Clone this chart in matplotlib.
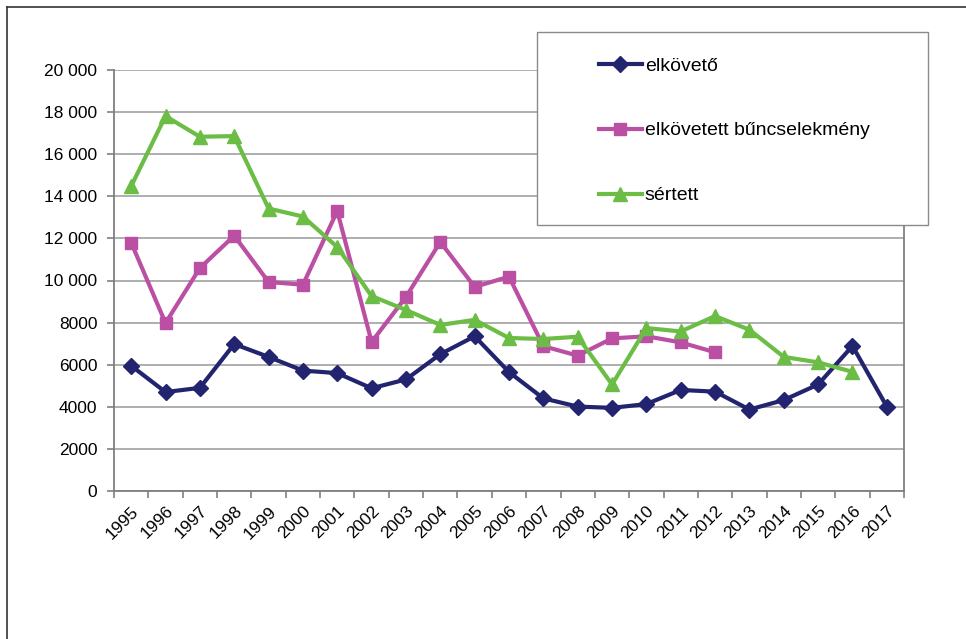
import numpy as np
import matplotlib
matplotlib.use("Agg")
import matplotlib.pyplot as plt
from matplotlib.patches import Rectangle
from matplotlib.lines import Line2D
from matplotlib.ticker import FuncFormatter

plt.rcParams['font.family'] = ['Liberation Sans', 'DejaVu Sans']

# --- Data ---
years = [str(y) for y in range(1995, 2018)]

elkoveto = [5950, 4700, 4900, 6980, 6370, 5720, 5600, 4880, 5300, 6500,
            7350, 5650, 4400, 4010, 3950, 4130, 4800, 4720, 3870, 4320,
            5060, 6890, 4010]
buncselekmeny = [11800, 7980, 10590, 12130, 9930, 9800, 13300, 7080, 9220, 11830,
                 9700, 10180, 6880, 6430, 7250, 7350, 7060, 6590]
sertett = [14480, 17810, 16830, 16860, 13420, 13040, 11590, 9260, 8600, 7890,
           8130, 7270, 7220, 7330, 5060, 7740, 7580, 8310, 7660, 6370,
           6110, 5660]

labels = ['elkövető', 'elkövetett bűncselekmény', 'sértett']
colors = ['#232470', '#bb4fa3', '#6bbd45']
markers = ['D', 's', '^']
msizes = [8, 9, 10]
yticks = list(range(0, 20001, 2000))


def fmt_thousands(v, pos):
    v = int(v)
    if v >= 10000:
        return f"{v:,}".replace(',', ' ')
    return str(v)


# --- Plot ---
fig = plt.figure(figsize=(9.66, 6.39), dpi=100)
ax = fig.add_axes([114 / 966, 1 - 491 / 639, 790 / 966, 421 / 639])

x = np.arange(len(years))
series = [elkoveto, buncselekmeny, sertett]
for vals, lab, col, mk, ms in zip(series, labels, colors, markers, msizes):
    ax.plot(x[:len(vals)], vals, color=col, lw=3, marker=mk, markersize=ms,
            label=lab, zorder=3)

ax.set_xlim(-0.5, len(years) - 0.5)
ax.set_ylim(0, 20000)
ax.set_yticks(yticks)
ax.yaxis.set_major_formatter(FuncFormatter(fmt_thousands))
ax.set_xticks(x)
ax.set_xticklabels(years, rotation=45, ha='right', rotation_mode='anchor')
ax.set_xticks(np.arange(len(years) + 1) - 0.5, minor=True)
ax.tick_params(axis='x', which='major', length=0, pad=9, labelsize=12.5)
ax.tick_params(axis='x', which='minor', length=5, color='#808080', width=1.2)
ax.tick_params(axis='y', length=5, color='#808080', width=1.2, pad=7, labelsize=12.5)

ax.grid(axis='y', color='#a8a8a8', lw=1.3)
ax.set_axisbelow(True)
for s in ['left', 'bottom', 'right']:
    ax.spines[s].set_color('#7f7f7f')
    ax.spines[s].set_linewidth(1.3)
ax.spines['top'].set_visible(False)

# legend box (white, covers part of plot)
fig.add_artist(Rectangle((537 / 966, 1 - 225 / 639), 391 / 966, 193 / 639,
                         transform=fig.transFigure, facecolor='white',
                         edgecolor='#8a8a8a', lw=1.0, zorder=5))
handles = [Line2D([0], [0], color=c, lw=3, marker=m, markersize=s)
           for c, m, s in zip(colors, markers, msizes)]
leg = fig.legend(handles, labels, loc='upper left',
                 bbox_to_anchor=(599 / 966, 1 - 57 / 639), frameon=False,
                 fontsize=14, handlelength=2.2, handletextpad=0.15,
                 labelspacing=2.43, borderpad=0, borderaxespad=0)
leg.set_zorder(6)

# outer frame
fig.add_artist(Line2D([7 / 966, 7 / 966], [0, 1 - 7 / 639], transform=fig.transFigure,
                      color='#333333', lw=1.2))
fig.add_artist(Line2D([7 / 966, 1], [1 - 7 / 639, 1 - 7 / 639], transform=fig.transFigure,
                      color='#333333', lw=1.2))

fig.savefig('out.png', dpi=100)
